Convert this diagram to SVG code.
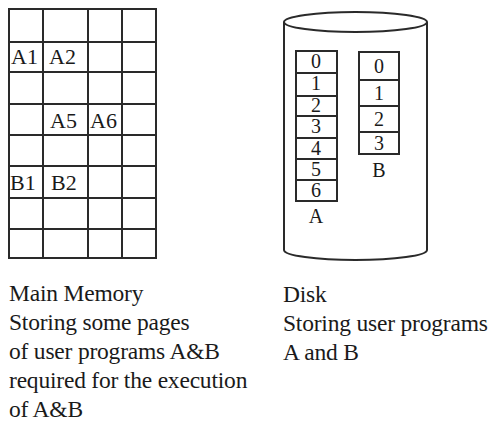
<svg xmlns="http://www.w3.org/2000/svg" width="502" height="421" viewBox="0 0 502 421">
<style>
.ln{stroke:#2a2a2a;stroke-width:2;fill:none}
text{font-family:'Liberation Serif','DejaVu Serif',serif;fill:#1a1a1a}
.g{font-size:22px}
.t{font-size:23.5px;letter-spacing:-0.2px}
.d{font-size:20px;text-anchor:middle}
</style>
<rect width="502" height="421" fill="#fff"/>
<g id="main-memory">
<rect class="ln" x="9" y="9" width="147" height="249"/>
<path class="ln" d="M43 9V258M88 9V258M122 9V258M9 42H156M9 72H156M9 104H156M9 135H156M9 166H156M9 198H156M9 229H156"/>
<text class="g" x="11" y="64">A1</text>
<text class="g" x="49" y="64">A2</text>
<text class="g" x="50" y="128">A5</text>
<text class="g" x="90" y="128">A6</text>
<text class="g" x="10" y="190">B1</text>
<text class="g" x="51" y="190">B2</text>
</g>
<g id="disk">
<path class="ln" d="M284 22V250A71.5 10 0 0 0 427 250V22"/>
<ellipse class="ln" cx="355.5" cy="22" rx="71.5" ry="10"/>
</g>
<g id="program-a">
<rect class="ln" x="296" y="51" width="41" height="150"/>
<path class="ln" d="M296 73H337M296 96H337M296 116H337M296 138H337M296 159H337M296 180H337"/>
<text class="d" x="316" y="68">0</text>
<text class="d" x="316" y="90">1</text>
<text class="d" x="316" y="112">2</text>
<text class="d" x="316" y="133">3</text>
<text class="d" x="316" y="155">4</text>
<text class="d" x="316" y="176">5</text>
<text class="d" x="316" y="197">6</text>
<text class="d" x="316" y="223">A</text>
</g>
<g id="program-b">
<rect class="ln" x="359" y="52" width="40" height="102"/>
<path class="ln" d="M359 80H399M359 106H399M359 132H399"/>
<text class="d" x="379" y="73">0</text>
<text class="d" x="379" y="100">1</text>
<text class="d" x="379" y="126">2</text>
<text class="d" x="379" y="150">3</text>
<text class="d" x="379" y="177">B</text>
</g>
<g id="labels">
<text class="t" x="9" y="301">Main Memory</text>
<text class="t" x="9" y="330">Storing some pages</text>
<text class="t" x="9" y="359">of user programs A&amp;B</text>
<text class="t" x="9" y="388">required for the execution</text>
<text class="t" x="9" y="417">of A&amp;B</text>
<text class="t" x="283" y="302">Disk</text>
<text class="t" x="283" y="331">Storing user programs</text>
<text class="t" x="283" y="360">A and B</text>
</g>
</svg>
